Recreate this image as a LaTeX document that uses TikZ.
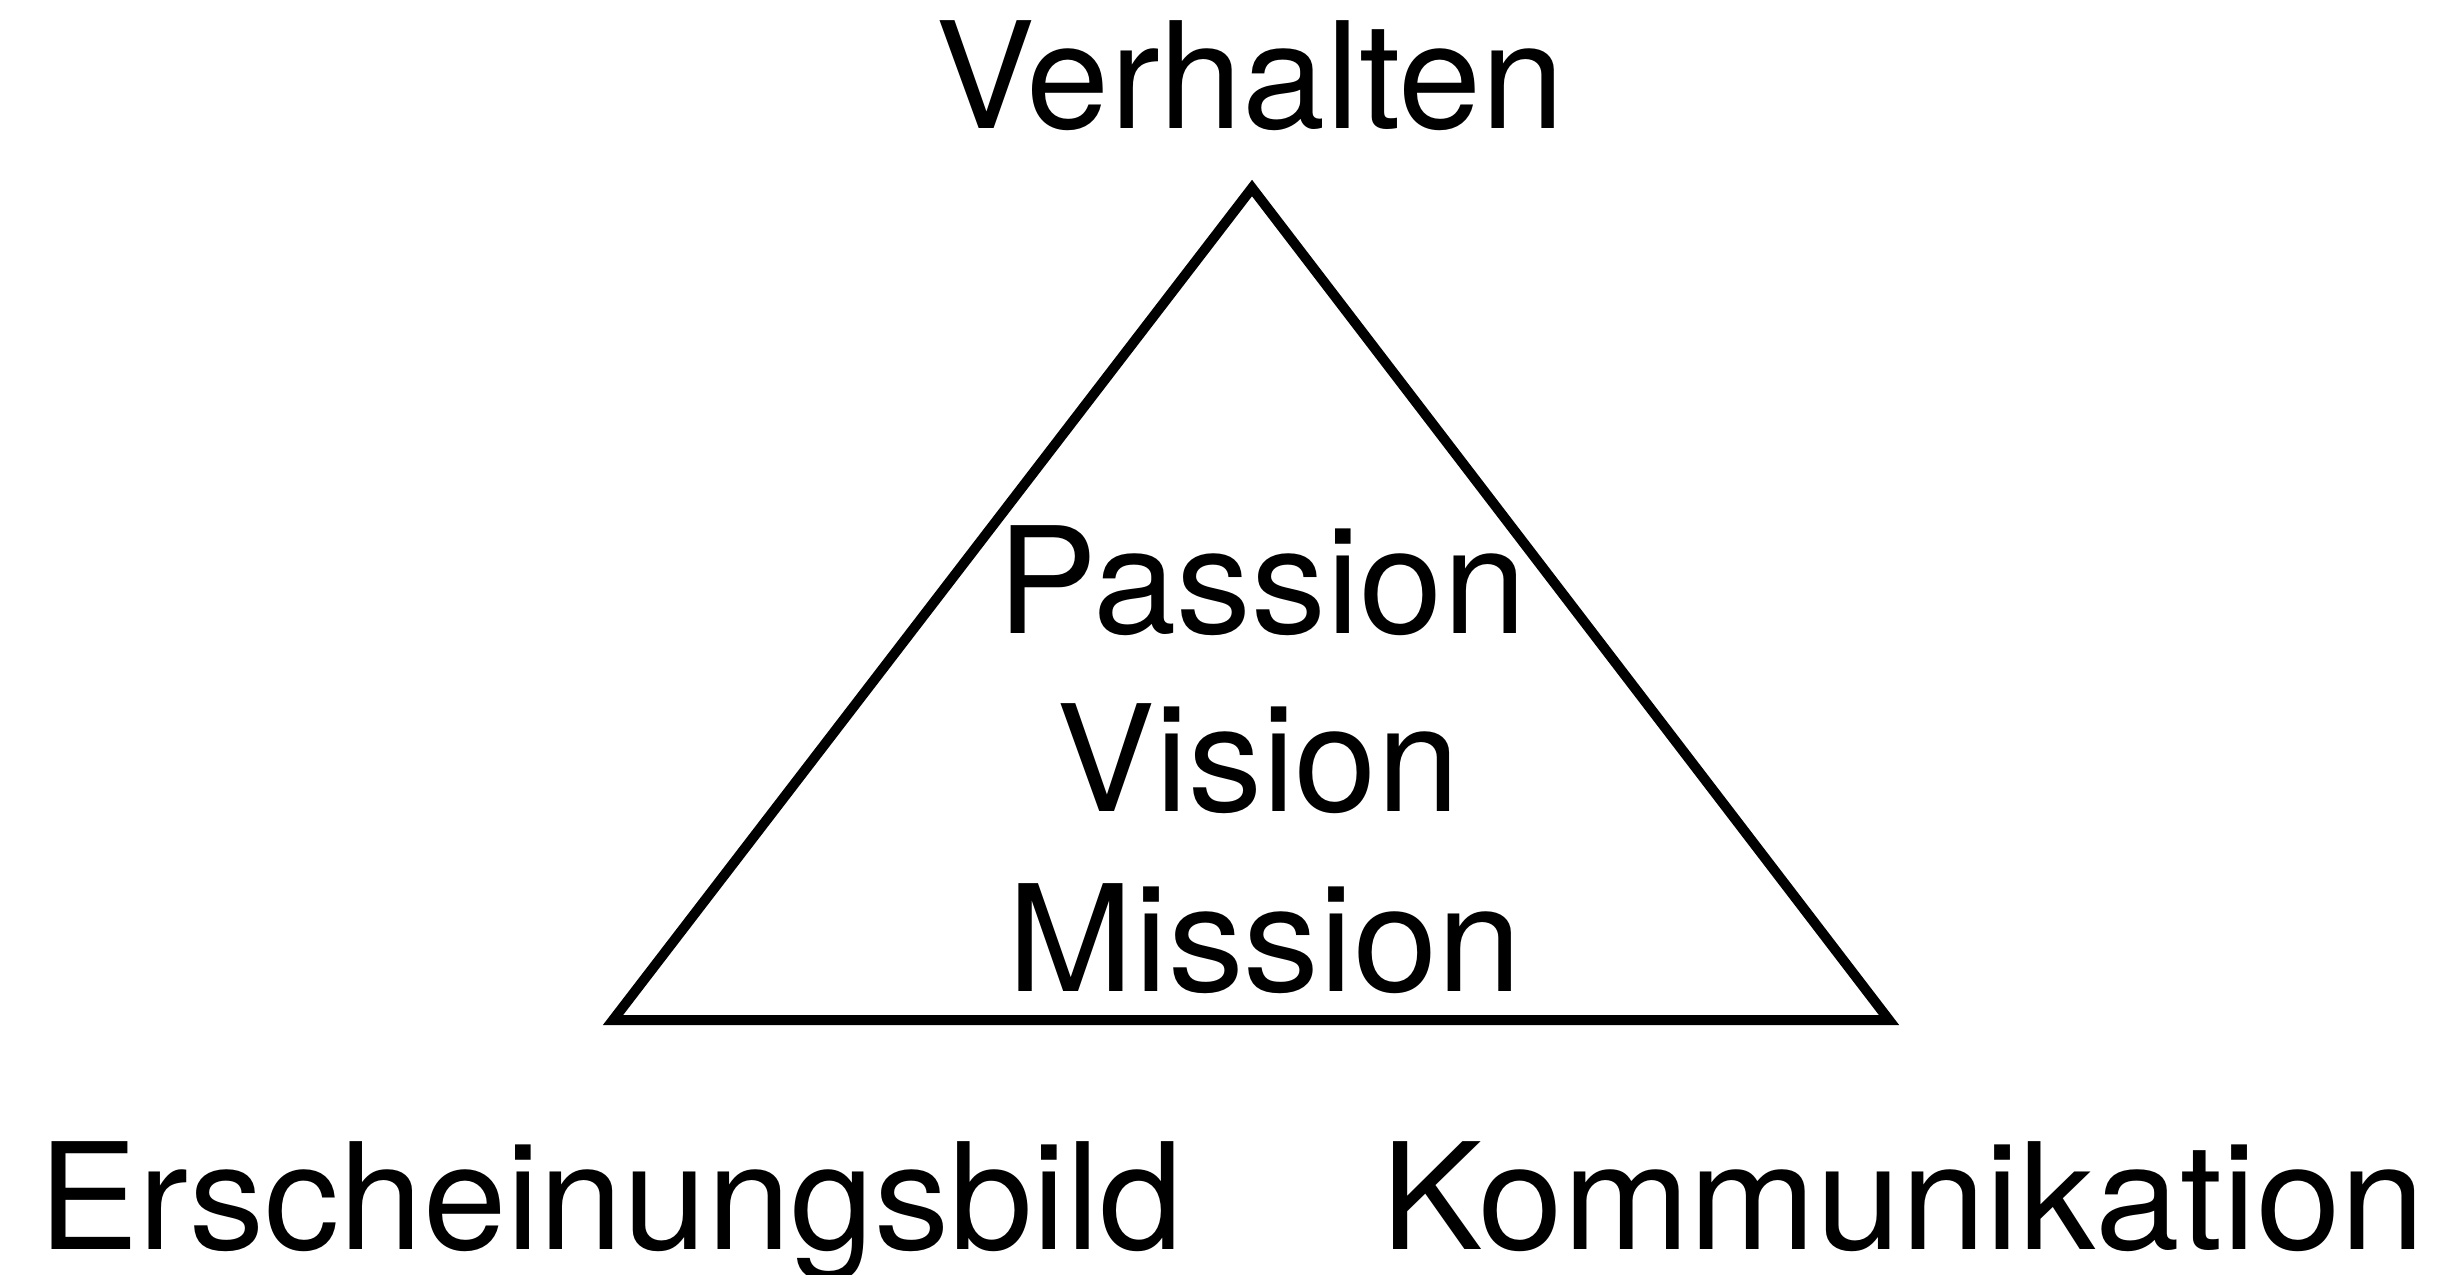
\documentclass[tikz,border=0pt]{standalone}
\usepackage{fontspec}
\setmainfont{TeX Gyre Heros}
\newcommand{\wid}[2]{\scalebox{#1}[1]{#2}}
\begin{document}
\begin{tikzpicture}[x=0.5pt,y=-0.5pt,
  lbl/.style={inner sep=0pt,font=\fontsize{74}{89}\selectfont},
  tri/.style={draw=black,line width=5pt,line join=miter}]
\useasboundingbox (0,0) rectangle (2444,1274);
\coordinate (A) at (1252,188);
\coordinate (B) at (613,1020);
\coordinate (C) at (1889,1020);
\draw[tri] (A) -- (B) -- (C) -- cycle;
\node[lbl,anchor=base] (verh) at (1250,128) {\wid{1.01}{Verhalten}};
\node[lbl,anchor=base] (pass) at (1262,633) {\wid{1.012}{Passion}};
\node[lbl,anchor=base] (vis) at (1258,811) {Vision};
\node[lbl,anchor=base] (miss) at (1265,991) {\wid{1.025}{Mission}};
\node[lbl,anchor=base west] (ersch) at (38,1249) {\wid{1.015}{Erscheinungsbild}};
\node[lbl,anchor=base west] (komm) at (1381,1249) {\wid{1.028}{Kommunikation}};
\end{tikzpicture}
\end{document}
